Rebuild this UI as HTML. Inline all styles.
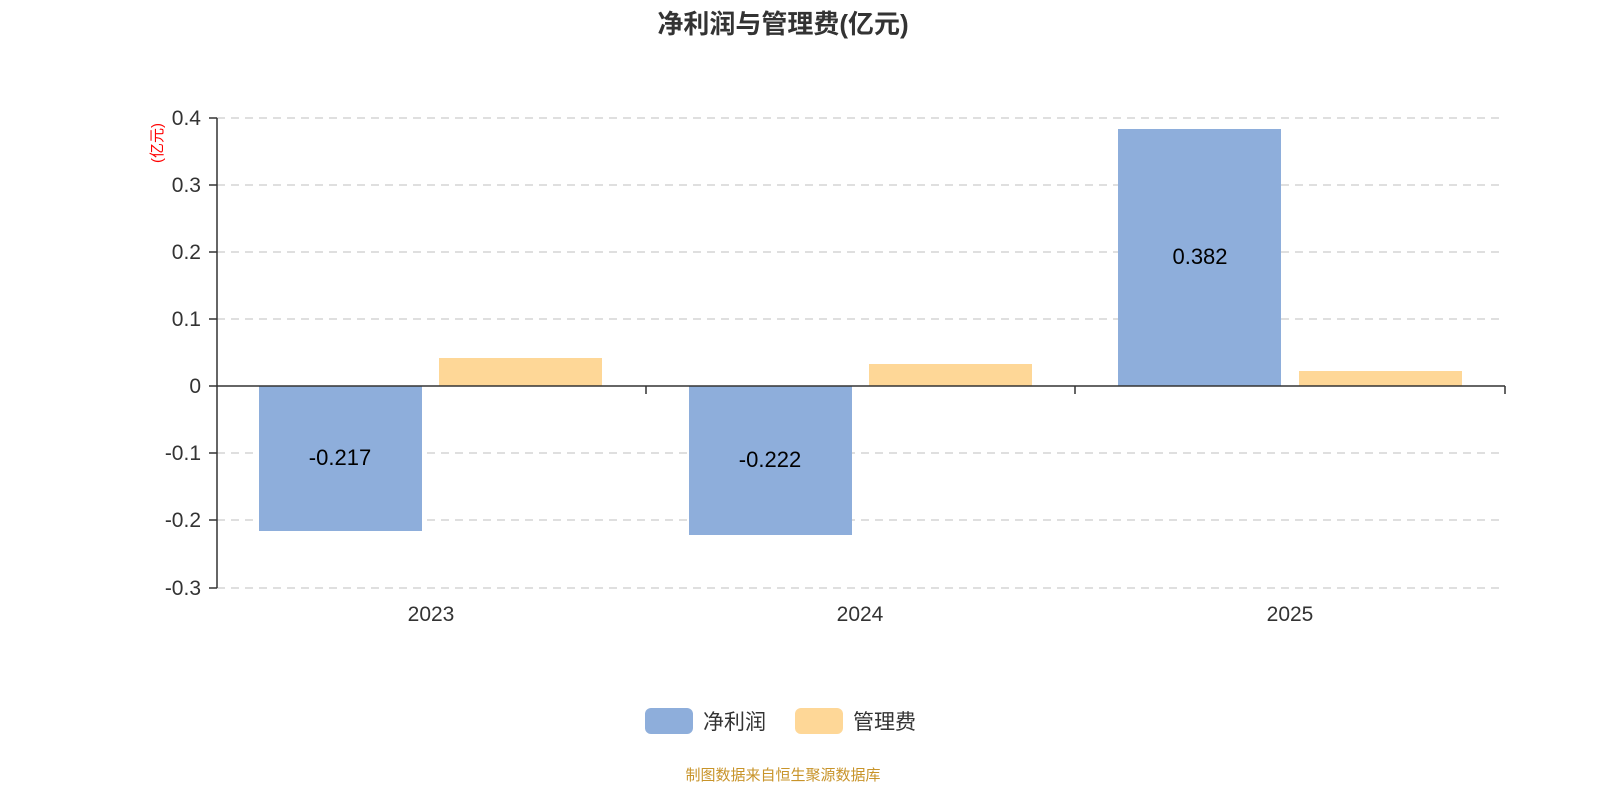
<!DOCTYPE html>
<html><head><meta charset="utf-8"><style>
html,body{margin:0;padding:0;background:#fff;}
svg{display:block;font-family:"Liberation Sans","Noto Sans CJK SC",sans-serif;}
</style></head><body>
<svg width="1600" height="800" viewBox="0 0 1600 800">
<text x="783" y="33" text-anchor="middle" font-size="26" font-weight="bold" fill="#333">净利润与管理费(亿元)</text>
<g stroke="#ccc" stroke-dasharray="8,6" stroke-width="1.3">
<line x1="217" x2="1505" y1="118" y2="118"/>
<line x1="217" x2="1505" y1="185" y2="185"/>
<line x1="217" x2="1505" y1="252" y2="252"/>
<line x1="217" x2="1505" y1="319" y2="319"/>
<line x1="217" x2="1505" y1="453" y2="453"/>
<line x1="217" x2="1505" y1="520" y2="520"/>
<line x1="217" x2="1505" y1="588" y2="588"/>
</g>
<g fill="#8eaedb">
<rect x="259" y="386" width="163" height="145"/>
<rect x="689" y="386" width="163" height="149"/>
<rect x="1118" y="129" width="163" height="257"/>
</g>
<g fill="#fed797">
<rect x="439" y="358" width="163" height="28"/>
<rect x="869" y="364" width="163" height="22"/>
<rect x="1299" y="371" width="163" height="15"/>
</g>
<g stroke="#333" stroke-width="1.5">
<line x1="217" x2="217" y1="118" y2="588"/>
<line x1="217" x2="1505" y1="386" y2="386"/>
<line x1="209" x2="217" y1="118" y2="118"/>
<line x1="209" x2="217" y1="185" y2="185"/>
<line x1="209" x2="217" y1="252" y2="252"/>
<line x1="209" x2="217" y1="319" y2="319"/>
<line x1="209" x2="217" y1="386" y2="386"/>
<line x1="209" x2="217" y1="453" y2="453"/>
<line x1="209" x2="217" y1="520" y2="520"/>
<line x1="209" x2="217" y1="588" y2="588"/>
<line x1="646" x2="646" y1="386" y2="394"/>
<line x1="1075" x2="1075" y1="386" y2="394"/>
<line x1="1505" x2="1505" y1="386" y2="394"/>
</g>
<g font-size="21" fill="#333" text-anchor="end">
<text x="201" y="125">0.4</text>
<text x="201" y="192">0.3</text>
<text x="201" y="259">0.2</text>
<text x="201" y="326">0.1</text>
<text x="201" y="393">0</text>
<text x="201" y="460">-0.1</text>
<text x="201" y="527">-0.2</text>
<text x="201" y="595">-0.3</text>
</g>
<text transform="translate(162,143) rotate(-90)" text-anchor="middle" font-size="15" fill="#f00">(亿元)</text>
<g font-size="21" fill="#333" text-anchor="middle">
<text x="431" y="621">2023</text>
<text x="860" y="621">2024</text>
<text x="1290" y="621">2025</text>
</g>
<g font-size="22" fill="#000" text-anchor="middle">
<text x="340" y="465">-0.217</text>
<text x="770" y="467">-0.222</text>
<text x="1200" y="264">0.382</text>
</g>
<rect x="645" y="708" width="48" height="26" rx="6" fill="#8eaedb"/>
<text x="703" y="729" font-size="21" fill="#333">净利润</text>
<rect x="795" y="708" width="48" height="26" rx="6" fill="#fed797"/>
<text x="853" y="729" font-size="21" fill="#333">管理费</text>
<text x="783" y="780" text-anchor="middle" font-size="15" fill="#c8942a">制图数据来自恒生聚源数据库</text>
</svg>
</body></html>
